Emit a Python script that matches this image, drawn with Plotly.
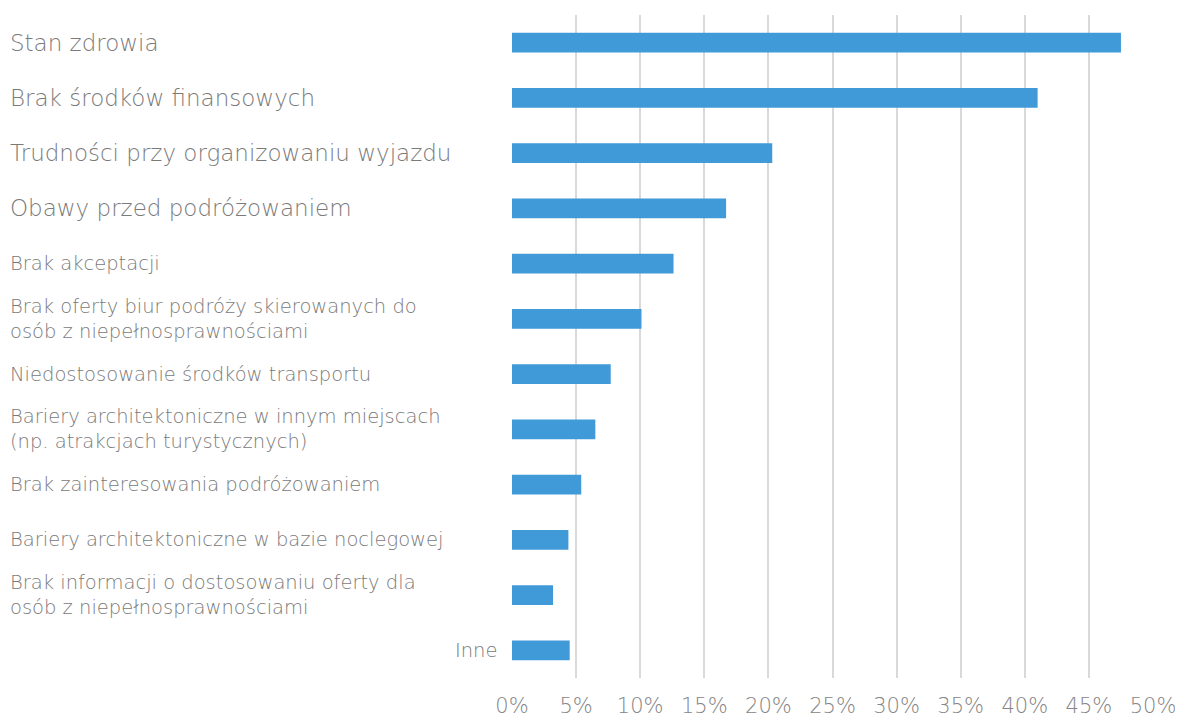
import plotly.graph_objects as go

categories = [
    "Stan zdrowia",
    "Brak środków finansowych",
    "Trudności przy organizowaniu wyjazdu",
    "Obawy przed podróżowaniem",
    "Brak akceptacji",
    "Brak oferty biur podróży skierowanych do<br>osób z niepełnosprawnościami",
    "Niedostosowanie środków transportu",
    "Bariery architektoniczne w innym miejscach<br>(np. atrakcjach turystycznych)",
    "Brak zainteresowania podróżowaniem",
    "Bariery architektoniczne w bazie noclegowej",
    "Brak informacji o dostosowaniu oferty dla<br>osób z niepełnosprawnościami",
    "Inne",
]
values = [47.5, 41.0, 20.3, 16.7, 12.6, 10.1, 7.7, 6.5, 5.4, 4.4, 3.2, 4.5]
label_sizes = [23, 23, 23, 23, 19.5, 19.5, 19.5, 19.5, 19.5, 19.5, 19.5, 19.5]
tick_vals = [0, 5, 10, 15, 20, 25, 30, 35, 40, 45, 50]
tick_text = ["0%", "5%", "10%", "15%", "20%", "25%", "30%", "35%", "40%", "45%", "50%"]

FONT = "DejaVu Sans"
TEXT_COLOR = "#7a7a7a"
W, H = 1175, 712
ML, MR, MT, MB = 504, 30, 7, 42
PW = W - ML - MR

fig = go.Figure(
    go.Bar(
        x=values,
        y=categories,
        orientation="h",
        width=0.36,
        marker=dict(color="#419ad8", line=dict(width=0)),
        hoverinfo="x+y",
    )
)

annotations = []
for cat, size in zip(categories, label_sizes):
    if cat == "Inne":
        annotations.append(dict(
            x=(491 - ML) / PW, xref="paper", xanchor="right",
            y=cat, yref="y", yanchor="middle",
            text=cat, showarrow=False, align="right",
            font=dict(family=FONT, size=size, color=TEXT_COLOR, weight=300),
        ))
    else:
        annotations.append(dict(
            x=(0 - ML) / PW, xref="paper", xanchor="left",
            y=cat, yref="y", yanchor="middle",
            text=cat, showarrow=False, align="left",
            font=dict(family=FONT, size=size, color=TEXT_COLOR, weight=300),
        ))

fig.update_layout(
    width=W, height=H,
    margin=dict(l=ML, r=MR, t=MT, b=MB, autoexpand=False),
    paper_bgcolor="white", plot_bgcolor="white",
    showlegend=False,
    annotations=annotations,
    font=dict(family=FONT, color=TEXT_COLOR),
    xaxis=dict(
        range=[0, 50],
        tickvals=tick_vals, ticktext=tick_text,
        showgrid=True, gridcolor="#d9d9d9", gridwidth=2,
        zeroline=False, showline=False, automargin=False,
        ticks="", ticklabelstandoff=13,
        tickfont=dict(family=FONT, size=21, color="#858585", weight=300),
    ),
    yaxis=dict(
        autorange="reversed", automargin=False,
        showticklabels=False, showgrid=False, zeroline=False, showline=False,
    ),
)

fig.write_html("out.html")
